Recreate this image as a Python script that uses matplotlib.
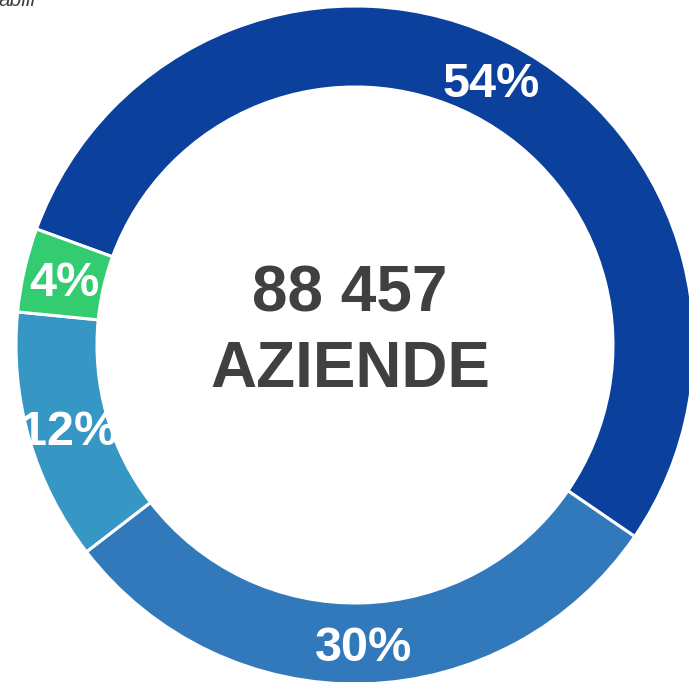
import matplotlib
matplotlib.use("Agg")
import matplotlib.pyplot as plt

# ── Data ───────────────────────────────────────────────────────────────────
shares  = [54, 30, 12, 4]
colors  = ["#0b409c", "#3179bb", "#3797c4", "#34cc71"]
total   = "88 457"
caption = "AZIENDE"

W, H = 689, 682
fig = plt.figure(figsize=(W/100, H/100), dpi=100)
ax = fig.add_axes([0, 0, 1, 1])

cx, cy, R = 355, H - 345, 339
wedges, _, pcts = ax.pie(
    shares, colors=colors, startangle=160, counterclock=False,
    center=(cx, cy), radius=R, autopct="%d%%", pctdistance=0.88,
    wedgeprops=dict(width=81, edgecolor="white", linewidth=2.2),
    textprops=dict(color="white", fontsize=35, fontweight="bold",
                   family="Liberation Sans"))
# nudge labels so the digits sit centred in the ring
for t in pcts:
    x, y = t.get_position()
    t.set_position((x, y - 5))

ax.set_xlim(0, W)
ax.set_ylim(0, H)
ax.set_aspect("equal")
ax.axis("off")

ax.text(350, H - 312, total, ha="center", va="baseline", fontsize=46,
        fontweight="bold", color="#404040", family="Liberation Sans")
ax.text(350, H - 387, caption, ha="center", va="baseline", fontsize=46,
        fontweight="bold", color="#404040", family="Liberation Sans")

# cut-off subtitle at top-left
ax.text(36, H - 6, "abili", ha="right", va="baseline", fontsize=15,
        style="italic", color="#404040", family="Liberation Sans")

fig.savefig("out.png", dpi=100)
plt.close()
